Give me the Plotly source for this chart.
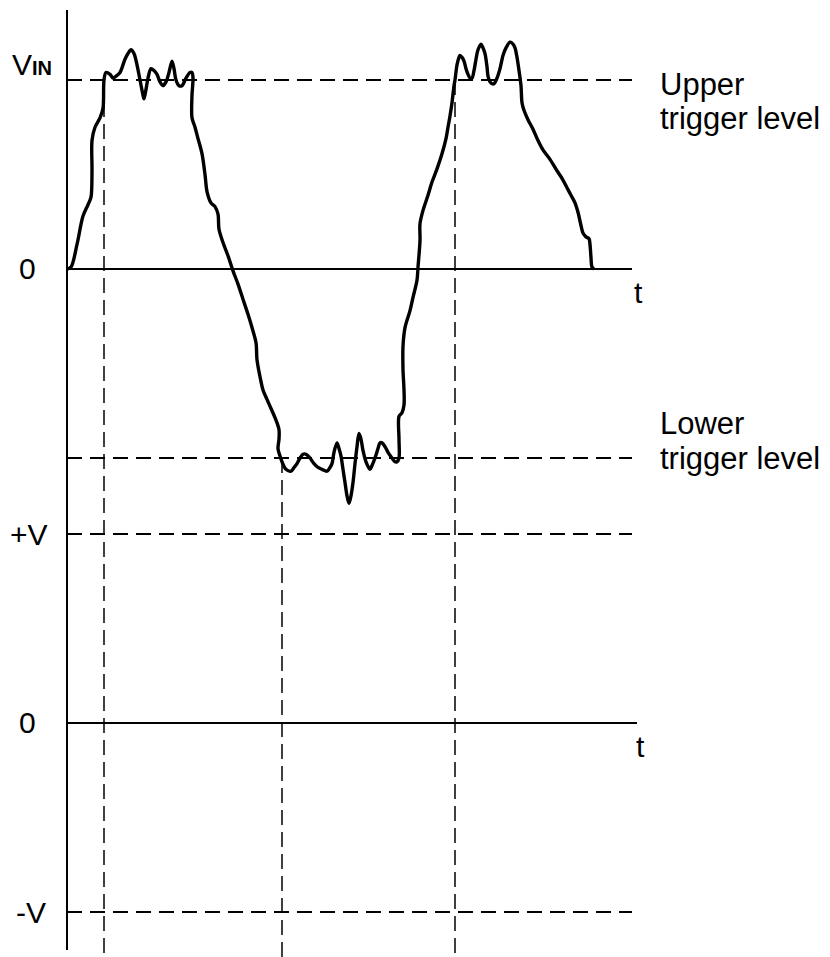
import plotly.graph_objects as go

# ---------------- data ----------------
# input waveform: t (time units), v (in units of the trigger level)
t_in = [0, 4, 10, 16, 21, 24, 25, 25, 28, 33, 36, 37, 39, 43, 46, 49, 53, 58, 61, 64,
        67, 70, 73, 76, 77, 79, 81, 84, 87, 90, 93, 96, 99, 102, 105, 107, 109, 112, 115,
        119, 123, 125, 126, 125, 125, 128, 131, 135, 138, 140, 144, 148, 151, 152, 156,
        161, 166, 171, 176, 181, 185, 189, 190, 193, 196, 200, 205, 209, 212, 212, 211,
        213, 215, 219, 224, 227, 230, 233, 236, 239, 243, 247, 251, 255, 260, 263, 265,
        267, 270, 272, 274, 276, 278, 280, 282, 284, 286, 288, 290, 292, 294, 296, 299,
        303, 305, 308, 311, 313, 315, 318, 321, 325, 328, 330, 332, 332, 332, 335, 337,
        337, 336, 336, 338, 343, 346, 350, 351, 353, 353, 356, 361, 365, 370, 375, 379,
        381, 383, 385, 387, 388, 390, 392, 393, 395, 397, 399, 401, 403, 405, 407, 409,
        411, 414, 416, 418, 420, 421, 423, 425, 427, 430, 433, 436, 439, 443, 446, 448,
        450, 452, 454, 455, 457, 461, 466, 471, 476, 483, 490, 495, 500, 504, 508, 511,
        514, 516, 519, 522, 523, 524, 525, 527]
v_in = [0.00, 0.01, 0.13, 0.28, 0.34, 0.38, 0.52, 0.68, 0.75, 0.80, 0.85, 1.00, 1.04,
        1.03, 1.01, 1.02, 1.04, 1.11, 1.14, 1.16, 1.14, 1.08, 1.00, 0.92, 0.90, 0.95,
        1.01, 1.06, 1.05, 1.03, 0.99, 0.97, 0.99, 1.04, 1.10, 1.06, 1.00, 0.97, 0.97,
        1.01, 1.04, 1.04, 1.01, 0.92, 0.80, 0.75, 0.69, 0.61, 0.50, 0.41, 0.35, 0.33,
        0.29, 0.21, 0.14, 0.07, -0.01, -0.08, -0.16, -0.24, -0.31, -0.39, -0.48, -0.57,
        -0.64, -0.69, -0.75, -0.80, -0.85, -0.90, -0.95, -0.99, -1.02, -1.06, -1.07,
        -1.05, -1.03, -1.00, -0.98, -0.98, -1.00, -1.03, -1.05, -1.06, -1.07, -1.05,
        -1.03, -0.97, -0.92, -0.95, -0.99, -1.06, -1.13, -1.20, -1.24, -1.20, -1.13,
        -1.03, -0.94, -0.87, -0.90, -0.96, -1.02, -1.06, -1.04, -1.00, -0.95, -0.92,
        -0.92, -0.94, -0.97, -1.00, -1.02, -1.02, -1.00, -0.90, -0.78, -0.76, -0.72,
        -0.64, -0.53, -0.41, -0.31, -0.22, -0.15, -0.06, 0.01, 0.15, 0.24, 0.31, 0.39,
        0.46, 0.53, 0.61, 0.69, 0.75, 0.81, 0.88, 0.97, 1.00, 1.08, 1.12, 1.13, 1.12,
        1.10, 1.06, 1.03, 1.01, 1.01, 1.05, 1.11, 1.16, 1.19, 1.17, 1.14, 1.07, 1.02,
        0.99, 0.98, 0.98, 1.01, 1.06, 1.13, 1.17, 1.20, 1.19, 1.17, 1.12, 1.05, 0.97,
        0.88, 0.84, 0.79, 0.74, 0.68, 0.63, 0.58, 0.52, 0.48, 0.43, 0.39, 0.35, 0.30,
        0.23, 0.19, 0.17, 0.16, 0.13, 0.06, 0.01, 0.00]

t_end = 565                       # end of the time axes
upper_trigger = 1.0
lower_trigger = -1.0
out_levels = [1.0, -1.0]          # +V, -V
out_labels = ["+V", "-V"]
cross_t = [37, 215, 388]          # trigger crossing instants
cross_v = [1.0, -1.0, 1.0]        # level at which each crossing happens

# ---------------- figure ----------------
W, H = 830, 957
X0 = 67                           # pixel of t = 0
PX_PER_UNIT = 189.0
TOP_ZERO, BOT_ZERO = 269, 723     # pixel rows of the two zero lines

xr = [-X0, W - X0]
y1r = [(TOP_ZERO - H) / PX_PER_UNIT, TOP_ZERO / PX_PER_UNIT]
y2r = [(BOT_ZERO - H) / PX_PER_UNIT, BOT_ZERO / PX_PER_UNIT]

fig = go.Figure()

fig.add_trace(go.Scatter(x=t_in, y=v_in, mode="lines",
                         line=dict(color="black", width=3.4, shape="spline", smoothing=0.9),
                         hoverinfo="skip", showlegend=False))
# dummy trace so y2 exists
fig.add_trace(go.Scatter(x=[0], y=[0], yaxis="y2", mode="markers",
                         marker=dict(opacity=0), hoverinfo="skip", showlegend=False))

HD = "15px,8px"
VD = "15px,7px"
shapes = []
# vertical axis
shapes.append(dict(type="line", xref="x", yref="paper", x0=0, x1=0,
                   y0=1 - 950 / H, y1=1 - 10 / H, line=dict(color="black", width=2)))
# zero lines
shapes.append(dict(type="line", xref="x", yref="y", x0=0, x1=t_end, y0=0, y1=0,
                   line=dict(color="black", width=2)))
shapes.append(dict(type="line", xref="x", yref="y2", x0=0, x1=t_end + 5, y0=0, y1=0,
                   line=dict(color="black", width=2)))
# trigger levels
for lv in (upper_trigger, lower_trigger):
    shapes.append(dict(type="line", xref="x", yref="y", x0=0, x1=t_end, y0=lv, y1=lv,
                       line=dict(color="black", width=2, dash=HD)))
# output levels
for lv in out_levels:
    shapes.append(dict(type="line", xref="x", yref="y2", x0=0, x1=t_end, y0=lv, y1=lv,
                       line=dict(color="black", width=2, dash=HD)))
# vertical crossing lines
for tc, vc in zip(cross_t, cross_v):
    shapes.append(dict(type="line", xref="x", yref="y", x0=tc, x1=tc, y0=vc, y1=y1r[0],
                       line=dict(color="black", width=1.5, dash=VD)))

FONT = "Liberation Sans, Arial, sans-serif"


def ann(text, px, py, xanchor="left", size=31):
    return dict(text=text, xref="paper", yref="paper", x=px / W, y=1 - py / H,
                xanchor=xanchor, yanchor="middle", showarrow=False,
                font=dict(family=FONT, size=size, color="black"))


annotations = [
    ann("V<span style='font-size:20px'><b>IN</b></span>", 54, 65, "right", 30),
    ann("0", 38, 268, "right", 30),
    ann("t", 632, 292, "left", 30),
    ann("Upper", 658, 84, "left"),
    ann("trigger level", 658, 118, "left"),
    ann("Lower", 658, 424, "left"),
    ann("trigger level", 658, 459, "left"),
    ann(out_labels[0], 50, 534, "right", 30),
    ann("0", 38, 722, "right", 30),
    ann("t", 634, 746, "left", 30),
    ann(out_labels[1], 48, 912, "right", 30),
]

fig.update_layout(
    width=W, height=H, margin=dict(l=0, r=0, t=0, b=0),
    paper_bgcolor="white", plot_bgcolor="white",
    xaxis=dict(range=xr, visible=False, fixedrange=True),
    yaxis=dict(range=y1r, visible=False, domain=[0, 1]),
    yaxis2=dict(range=y2r, visible=False, overlaying="y", domain=[0, 1]),
    shapes=shapes, annotations=annotations, showlegend=False,
)

fig.write_html("out.html", config={"displayModeBar": False},
               post_script="document.body.style.margin='0';document.body.style.overflow='hidden';")
